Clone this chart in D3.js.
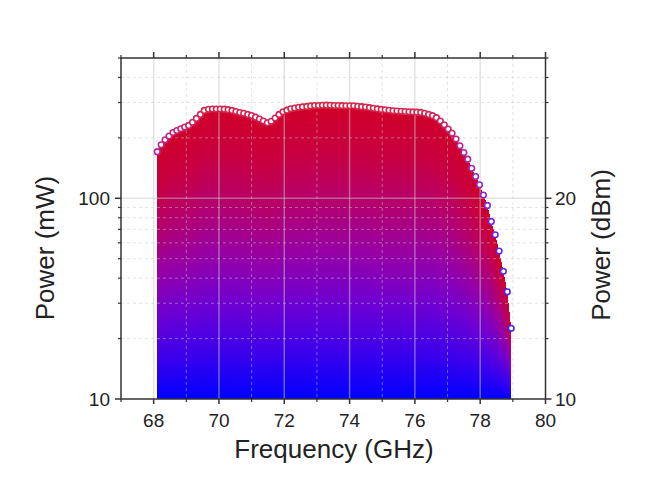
<!DOCTYPE html>
<html><head><meta charset="utf-8">
<script src="https://cdn.jsdelivr.net/npm/d3@7"></script>
<style>body{margin:0;background:#fff}svg{display:block}text{font-family:"Liberation Sans",Arial,sans-serif;fill:#222}</style>
</head><body><svg id="c" width="649" height="491"></svg>
<script>
const frequency = [68.11,68.23,68.35,68.47,68.59,68.71,68.83,68.95,69.07,69.19,69.31,69.43,69.55,69.68,69.80,69.92,70.04,70.16,70.28,70.40,70.52,70.64,70.76,70.88,71.00,71.12,71.24,71.36,71.48,71.60,71.72,71.84,71.96,72.08,72.20,72.32,72.44,72.56,72.69,72.81,72.93,73.05,73.17,73.29,73.41,73.53,73.65,73.77,73.89,74.01,74.13,74.25,74.37,74.49,74.61,74.73,74.85,74.97,75.09,75.21,75.33,75.45,75.58,75.70,75.82,75.94,76.06,76.18,76.30,76.42,76.54,76.66,76.78,76.90,77.02,77.14,77.26,77.38,77.50,77.62,77.74,77.86,77.98,78.10,78.22,78.34,78.46,78.58,78.71,78.83,78.95];
const powerMW = [170.7,184.6,195.6,204.3,212.7,217.4,222.0,226.3,230.8,239.1,250.1,261.6,273.9,277.6,278.6,278.6,278.6,277.9,276.4,273.9,270.7,267.6,264.9,261.8,258.3,253.6,248.1,242.7,237.8,241.9,250.9,261.6,269.8,274.8,279.2,281.8,284.1,285.4,287.0,288.4,289.7,290.0,290.5,291.0,290.5,290.0,290.0,289.5,289.0,288.8,288.7,287.3,286.0,284.7,282.7,280.8,278.9,277.3,276.1,274.5,272.9,272.0,271.3,270.4,269.8,269.2,268.5,267.9,265.2,261.6,258.0,252.1,242.5,232.2,221.2,210.6,197.4,182.6,169.1,156.6,141.1,128.3,116.8,103.8,92.1,76.7,65.8,54.6,43.3,34.2,22.5];
const xTicks = [68,70,72,74,76,78,80];
const xMinor = [67,69,71,73,75,77,79];
const yTicks = [10,100];
const yMinor = [20,30,40,50,60,70,80,90,200,300,400,500];
const dBmTicks = [10,20];

const svg = d3.select("#c");
const L=121,R=545.5,T=58,B=399;
const x = d3.scaleLinear().domain([67,80]).range([L,R]);
const y = d3.scaleLog().domain([10,500]).range([B,T]);

const stops = [[0,"#0000ff"],[0.16,"#3c00eb"],[0.33,"#6e00d2"],[0.5,"#9600a5"],[0.67,"#b4006e"],[0.84,"#c80041"],[1,"#d00028"]];
const cramp = d3.scaleLinear().domain(stops.map(s=>s[0])).range(stops.map(s=>s[1])).clamp(true);

const defs = svg.append("defs");
const g = defs.append("linearGradient").attr("id","grad").attr("x1",0).attr("y1",1).attr("x2",0).attr("y2",0);
stops.forEach(s=>g.append("stop").attr("offset",s[0]).attr("stop-color",s[1]));

const pts = frequency.map((f,i)=>[x(f),y(powerMW[i])]);
const fillG = svg.append("g").attr("shape-rendering","crispEdges");
const x0 = Math.round(pts[0][0]), x1 = Math.round(pts[pts.length-1][0]);
let j=0;
for(let px=x0; px<x1; px+=1){
  const cx = px+0.5;
  while(j<pts.length-2 && pts[j+1][0]<cx) j++;
  const a=pts[j], b=pts[j+1];
  const t=Math.max(0,Math.min(1,(cx-a[0])/(b[0]-a[0])));
  const top=a[1]+(b[1]-a[1])*t;
  fillG.append("rect").attr("x",px).attr("y",top).attr("width",1).attr("height",B-top).attr("fill","url(#grad)");
}

const grid = svg.append("g").attr("stroke","#c8c8c8").attr("stroke-opacity",0.5);
xTicks.filter(v=>v<80).forEach(v=>grid.append("line").attr("x1",x(v)).attr("x2",x(v)).attr("y1",T).attr("y2",B).attr("stroke-width",1.5));
xMinor.filter(v=>v>67).forEach(v=>grid.append("line").attr("x1",x(v)).attr("x2",x(v)).attr("y1",T).attr("y2",B).attr("stroke-width",1).attr("stroke-dasharray","3,3"));
grid.append("line").attr("x1",L).attr("x2",R).attr("y1",y(100)).attr("y2",y(100)).attr("stroke-width",1.5);
yMinor.filter(v=>v<500).forEach(v=>grid.append("line").attr("x1",L).attr("x2",R).attr("y1",y(v)).attr("y2",y(v)).attr("stroke-width",1).attr("stroke-dasharray","3,3"));

svg.append("g").selectAll("circle").data(frequency).join("circle")
  .attr("cx",(d)=>x(d)).attr("cy",(d,i)=>y(powerMW[i])).attr("r",2.8)
  .attr("fill","#fff")
  .attr("stroke",(d,i)=>d3.interpolateRgb(cramp(powerMW[i]/290),"#ffffff")(0.15))
  .attr("stroke-width",1.6);

const ax = svg.append("g").attr("stroke","#333").attr("fill","none");
ax.append("rect").attr("x",L).attr("y",T).attr("width",R-L).attr("height",B-T).attr("stroke-width",1.5);
function tick(x1_,y1_,x2_,y2_,w){ax.append("line").attr("x1",x1_).attr("y1",y1_).attr("x2",x2_).attr("y2",y2_).attr("stroke-width",w);}
xTicks.forEach(v=>{tick(x(v),B,x(v),B+5,1.5);tick(x(v),T,x(v),T-6,1.5);});
xMinor.forEach(v=>{tick(x(v),B,x(v),B+3,1.2);tick(x(v),T,x(v),T-3,1.2);});
yTicks.forEach(v=>{tick(L,y(v),L-6,y(v),1.5);tick(R,y(v),R+6,y(v),1.5);});
yMinor.forEach(v=>{tick(L,y(v),L-3,y(v),1.2);tick(R,y(v),R+3,y(v),1.2);});

const fs=19;
svg.append("g").selectAll("text").data(xTicks).join("text").attr("x",d=>x(d)).attr("y",427).attr("text-anchor","middle").attr("font-size",fs).text(d=>d);
svg.append("g").selectAll("text").data(yTicks).join("text").attr("x",110).attr("y",d=>y(d)+7).attr("text-anchor","end").attr("font-size",fs).text(d=>d);
svg.append("g").selectAll("text").data(dBmTicks).join("text").attr("x",555).attr("y",d=>y(Math.pow(10,d/10))+7).attr("text-anchor","start").attr("font-size",fs).text(d=>d);

svg.append("text").attr("x",334).attr("y",458).attr("text-anchor","middle").attr("font-size",26).text("Frequency (GHz)");
svg.append("text").attr("transform","translate(54,248) rotate(-90)").attr("text-anchor","middle").attr("font-size",26).text("Power (mW)");
svg.append("text").attr("transform","translate(610,245) rotate(-90)").attr("text-anchor","middle").attr("font-size",26).text("Power (dBm)");
</script></body></html>
